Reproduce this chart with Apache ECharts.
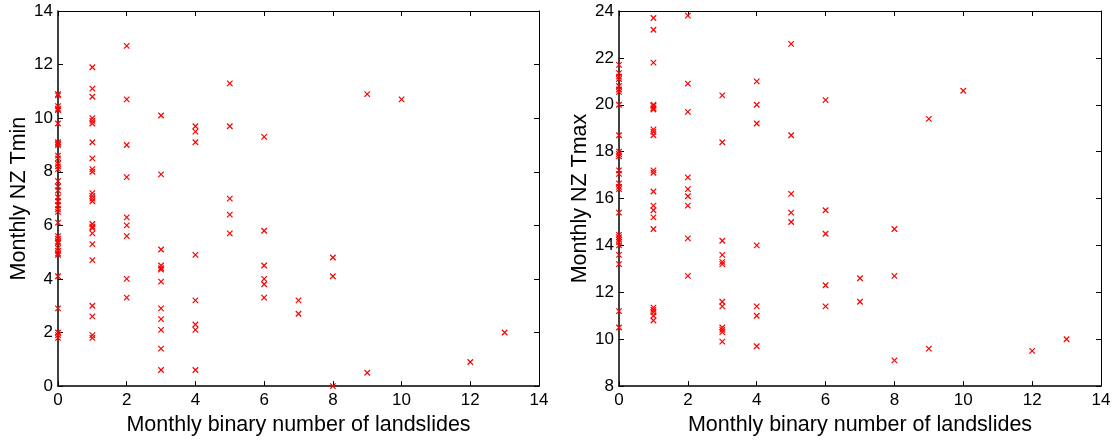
<!DOCTYPE html>
<html>
<head>
<meta charset="utf-8">
<script src="https://cdn.jsdelivr.net/npm/echarts@6/dist/echarts.min.js"></script>
<style>
html,body{margin:0;padding:0;background:#fff;}
#chart{width:1118px;height:441px;}
</style>
</head>
<body>
<div id="chart"></div>
<script>
// Monthly binary number of landslides (x) and the temperatures observed at each count
const landslideCounts = [0, 1, 2, 3, 4, 5, 6, 7, 8, 9, 10, 12, 13];

const tminAt0 = [10.9, 10.85, 10.45, 10.35, 10.3, 9.8, 9.1, 9.05, 9.0, 8.6, 8.5, 8.3, 8.2, 8.1, 7.65, 7.45, 7.3, 7.05, 6.9, 6.75, 6.6, 6.5, 6.1, 5.6, 5.5, 5.4, 5.35, 5.15, 5.05, 4.95, 4.9, 4.1, 2.9, 2.0, 1.9, 1.8];
const tminAt1 = [11.9, 11.1, 10.8, 10.0, 9.9, 9.8, 9.1, 8.5, 8.1, 8.0, 7.2, 7.1, 7.0, 6.9, 6.05, 5.95, 5.9, 5.7, 5.3, 4.7, 3.0, 2.6, 1.9, 1.8];
const tminAt2 = [12.7, 10.7, 9.0, 7.8, 6.3, 6.0, 5.6, 4.0, 3.3];
const tminAt3 = [10.1, 7.9, 5.1, 4.5, 4.4, 4.35, 3.9, 2.9, 2.5, 2.1, 1.4, 0.6];
const tminAt4 = [9.7, 9.5, 9.1, 4.9, 3.2, 2.3, 2.1, 0.6];
const tminAt5 = [11.3, 9.7, 7.0, 6.4, 5.7];
const tminAt6 = [9.3, 5.8, 4.5, 4.0, 3.8, 3.3];
const tminAt7 = [3.2, 2.7];
const tminAt8 = [4.8, 4.1, 0.0];
const tminAt9 = [10.9, 0.5];
const tminAt10 = [10.7];
const tminAt12 = [0.9];
const tminAt13 = [2.0];

const tmaxAt0 = [21.7, 21.35, 21.2, 21.1, 20.8, 20.65, 20.55, 20.0, 18.7, 18.0, 17.9, 17.8, 17.2, 17.05, 16.65, 16.5, 16.4, 15.4, 14.45, 14.35, 14.25, 14.15, 14.0, 13.6, 13.2, 11.2, 10.5];
const tmaxAt1 = [23.7, 23.2, 21.8, 20.0, 19.95, 19.85, 19.8, 18.95, 18.85, 18.7, 17.2, 17.1, 16.3, 15.7, 15.5, 15.2, 14.7, 11.35, 11.25, 11.15, 11.0, 10.8];
const tmaxAt2 = [23.8, 20.9, 19.7, 16.9, 16.4, 16.1, 15.7, 14.3, 12.7];
const tmaxAt3 = [20.4, 18.4, 14.2, 13.6, 13.3, 13.2, 11.6, 11.4, 10.5, 10.4, 10.3, 9.9];
const tmaxAt4 = [21.0, 20.0, 19.2, 14.0, 11.4, 11.0, 9.7];
const tmaxAt5 = [22.6, 18.7, 16.2, 15.4, 15.0];
const tmaxAt6 = [20.2, 15.5, 14.5, 12.3, 11.4];
const tmaxAt7 = [12.6, 11.6];
const tmaxAt8 = [14.7, 12.7, 9.1];
const tmaxAt9 = [19.4, 9.6];
const tmaxAt10 = [20.6];
const tmaxAt12 = [9.5];
const tmaxAt13 = [10.0];

const tminGroups = [tminAt0, tminAt1, tminAt2, tminAt3, tminAt4, tminAt5, tminAt6, tminAt7, tminAt8, tminAt9, tminAt10, tminAt12, tminAt13];
const tmaxGroups = [tmaxAt0, tmaxAt1, tmaxAt2, tmaxAt3, tmaxAt4, tmaxAt5, tmaxAt6, tmaxAt7, tmaxAt8, tmaxAt9, tmaxAt10, tmaxAt12, tmaxAt13];

function toPoints(groups) {
  const pts = [];
  groups.forEach((vals, i) => vals.forEach(v => pts.push([landslideCounts[i], v])));
  return pts;
}

const FONT = "'Liberation Sans', Arial, sans-serif";
const xName = 'Monthly binary number of landslides';

function mainX(gridIndex) {
  return {
    gridIndex, type: 'value', min: 0, max: 14, interval: 2, position: 'bottom',
    name: xName, nameLocation: 'middle', nameGap: 21,
    nameTextStyle: { fontFamily: FONT, fontSize: 21.5, color: '#000' },
    axisLine: { show: true, onZero: false, lineStyle: { color: '#000', width: 1.5 } },
    axisTick: { show: true, inside: true, length: 5, lineStyle: { color: '#000', width: 1 } },
    axisLabel: { fontFamily: FONT, fontSize: 17, color: '#000', margin: 6 },
    splitLine: { show: false }
  };
}
function topX(gridIndex) {
  return {
    gridIndex, type: 'value', min: 0, max: 14, interval: 2, position: 'top',
    axisLine: { show: true, onZero: false, lineStyle: { color: '#000', width: 1 } },
    axisTick: { show: true, inside: true, length: 5, lineStyle: { color: '#000', width: 1 } },
    axisLabel: { show: false }, splitLine: { show: false }
  };
}
function mainY(gridIndex, min, max, name) {
  return {
    gridIndex, type: 'value', min, max, interval: 2, position: 'left',
    name, nameLocation: 'middle', nameGap: 28, nameRotate: 90,
    nameTextStyle: { fontFamily: FONT, fontSize: 21.5, color: '#000' },
    axisLine: { show: true, onZero: false, lineStyle: { color: '#000', width: 1.5 } },
    axisTick: { show: true, inside: true, length: 5, lineStyle: { color: '#000', width: 1 } },
    axisLabel: { fontFamily: FONT, fontSize: 17, color: '#000', margin: 5 },
    splitLine: { show: false }
  };
}
function rightY(gridIndex, min, max) {
  return {
    gridIndex, type: 'value', min, max, interval: 2, position: 'right',
    axisLine: { show: true, onZero: false, lineStyle: { color: '#000', width: 1 } },
    axisTick: { show: true, inside: true, length: 5, lineStyle: { color: '#000', width: 1 } },
    axisLabel: { show: false }, splitLine: { show: false }
  };
}

const crossSymbol = 'path://M0,0L10,10M10,0L0,10';
function scatter(xIdx, yIdx, data) {
  return {
    type: 'scatter', xAxisIndex: xIdx, yAxisIndex: yIdx, data,
    symbol: crossSymbol, symbolSize: 5.5,
    itemStyle: { color: 'rgba(0,0,0,0)', borderColor: '#ff0000', borderWidth: 1.2, opacity: 1 },
    emphasis: { disabled: true }, animation: false
  };
}

const chart = echarts.init(document.getElementById('chart'), null, { renderer: 'canvas' });
chart.setOption({
  backgroundColor: '#fff',
  animation: false,
  grid: [
    { left: 58, width: 481, top: 11, height: 380 },
    { left: 619, width: 482, top: 11, height: 380 }
  ],
  xAxis: [mainX(0), topX(0), mainX(1), topX(1)],
  yAxis: [mainY(0, 0, 14, 'Monthly NZ Tmin'), rightY(0, 0, 14), mainY(1, 8, 24, 'Monthly NZ Tmax'), rightY(1, 8, 24)],
  series: [
    scatter(0, 0, toPoints(tminGroups)),
    scatter(2, 2, toPoints(tmaxGroups))
  ]
});
</script>
</body>
</html>
